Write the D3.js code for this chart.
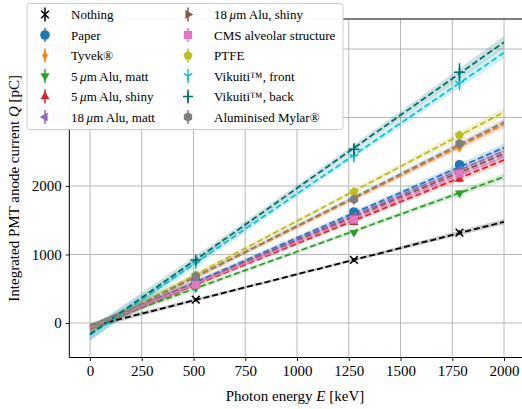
<!DOCTYPE html>
<html>
<head>
<meta charset="utf-8">
<script src="https://cdn.jsdelivr.net/npm/d3@7/dist/d3.min.js"></script>
<style>
  body { margin: 0; background: #fff; }
  text { font-family: "Liberation Serif", "DejaVu Serif", serif; fill: #000; }
</style>
</head>
<body>
<svg width="522" height="409"></svg>
<script>
// ---- data ----
const names = ['Nothing', 'Paper', 'Tyvek®', '5 μm Alu, matt', '5 μm Alu, shiny', '18 μm Alu, matt',
               '18 μm Alu, shiny', 'CMS alveolar structure', 'PTFE', 'Vikuiti™, front', 'Vikuiti™, back', 'Aluminised Mylar®'];
const colors = ['#000000', '#1f77b4', '#ff7f0e', '#2ca02c', '#d62728', '#9467bd',
                '#8c564b', '#e377c2', '#bcbd22', '#17becf', '#006e6e', '#7f7f7f'];
const markers = ['x', 'o', 'd', 'v', '^', '<', '>', 's', 'p', '1', '+', 'h'];
const energies = [511, 1275, 1785];
// measured charge at each energy [pC]
const charges = [
  [340, 920, 1320],
  [600, 1620, 2310],
  [660, 1790, 2560],
  [510, 1320, 1895],
  [550, 1470, 2100],
  [585, 1560, 2230],
  [575, 1540, 2200],
  [560, 1510, 2180],
  [700, 1915, 2745],
  [860, 2425, 3495],
  [920, 2535, 3660],
  [680, 1805, 2620]
];
const errors = [
  [25, 30, 35], [30, 35, 45], [30, 35, 45], [30, 35, 40], [30, 35, 45], [30, 35, 45],
  [30, 35, 45], [30, 35, 45], [30, 40, 50], [60, 80, 100], [60, 90, 130], [30, 40, 50]
];
// linear fit: charge at E = 0 and at E = 2000 keV
const fitStart = [-55, -75, -95, -50, -64, -72, -70, -67, -105, -175, -164, -96];
const fitEnd   = [1477, 2561, 2900, 2133, 2380, 2510, 2470, 2430, 3080, 3946, 4100, 2930];
// half width of the fit band at E = 0, 1000, 2000 keV
const bandE = [0, 1000, 2000];
const bandHalf = [
  [40, 20, 40], [55, 30, 60], [55, 30, 60], [45, 25, 50], [50, 28, 55], [50, 28, 55],
  [50, 28, 55], [50, 28, 55], [55, 30, 65], [90, 45, 85], [90, 45, 90], [55, 30, 60]
];
const xTicks = [0, 250, 500, 750, 1000, 1250, 1500, 1750, 2000];
const yTicks = [0, 1000, 2000, 3000, 4000];

// ---- layout ----
const svg = d3.select('svg');
const box = {left: 69.3, right: 524.7, top: 19, bottom: 357.5};
const x = d3.scaleLinear().domain([-100, 2100]).range([box.left, box.right]);
const y = d3.scaleLinear().domain([-504, 4438]).range([box.bottom, box.top]);
const serif = '"Liberation Serif", "DejaVu Serif", serif';

svg.append('defs').append('clipPath').attr('id', 'clip')
  .append('rect').attr('x', box.left).attr('y', box.top)
  .attr('width', box.right - box.left).attr('height', box.bottom - box.top);

// grid
const grid = svg.append('g');
grid.selectAll('.vx').data(xTicks).enter().append('line')
  .attr('x1', d => x(d)).attr('x2', d => x(d)).attr('y1', box.top).attr('y2', box.bottom)
  .attr('stroke', '#b0b0b0').attr('stroke-width', 0.9);
grid.selectAll('.hy').data(yTicks).enter().append('line')
  .attr('y1', d => y(d)).attr('y2', d => y(d)).attr('x1', box.left).attr('x2', box.right)
  .attr('stroke', '#b0b0b0').attr('stroke-width', 0.9);

// bands and fit lines
const plot = svg.append('g').attr('clip-path', 'url(#clip)');
const fitAt = (i, e) => fitStart[i] + (fitEnd[i] - fitStart[i]) * e / 2000;

names.forEach((n, i) => {
  const pts = bandE.map((e, k) => ({e: e, lo: fitAt(i, e) - bandHalf[i][k], hi: fitAt(i, e) + bandHalf[i][k]}));
  const area = d3.area().x(d => x(d.e)).y0(d => y(d.lo)).y1(d => y(d.hi)).curve(d3.curveNatural);
  plot.append('path').attr('d', area(pts)).attr('fill', colors[i]).attr('fill-opacity', 0.2);
});
names.forEach((n, i) => {
  plot.append('line')
    .attr('x1', x(0)).attr('y1', y(fitStart[i]))
    .attr('x2', x(2000)).attr('y2', y(fitEnd[i]))
    .attr('stroke', colors[i]).attr('stroke-width', 1.8)
    .attr('stroke-dasharray', '6,3');
});

// marker shapes
function markerPath(m, r) {
  const poly = (n, rot, rr) => d3.range(n).map(k => {
    const a = rot + k * 2 * Math.PI / n;
    return [rr * Math.sin(a), -rr * Math.cos(a)];
  });
  const toPath = p => 'M' + p.map(q => q.join(',')).join('L') + 'Z';
  switch (m) {
    case 'o': return d3.symbol(d3.symbolCircle, Math.PI * r * r)();
    case 's': return `M${-r * 0.85},${-r * 0.85}H${r * 0.85}V${r * 0.85}H${-r * 0.85}Z`;
    case 'd': return `M0,${-r}L${r * 0.6},0L0,${r}L${-r * 0.6},0Z`;
    case 'v': return toPath(poly(3, Math.PI, r * 1.1));
    case '^': return toPath(poly(3, 0, r * 1.1));
    case '<': return toPath(poly(3, -Math.PI / 2, r * 1.1));
    case '>': return toPath(poly(3, Math.PI / 2, r * 1.1));
    case 'p': return toPath(poly(5, 0, r));
    case 'h': return toPath(poly(6, 0, r));
    case 'x': return `M${-r * 0.8},${-r * 0.8}L${r * 0.8},${r * 0.8}M${r * 0.8},${-r * 0.8}L${-r * 0.8},${r * 0.8}`;
    case '+': return `M${-r},0H${r}M0,${-r}V${r}`;
    case '1': return `M0,0V${r}M0,0L${-r * 0.87},${-r * 0.5}M0,0L${r * 0.87},${-r * 0.5}`;
  }
}
const stroked = m => m === 'x' || m === '+' || m === '1';

function drawMarker(g, i, cx, cy, r) {
  const m = markers[i];
  const p = g.append('path').attr('d', markerPath(m, r)).attr('transform', `translate(${cx},${cy})`);
  if (stroked(m)) p.attr('fill', 'none').attr('stroke', colors[i]).attr('stroke-width', 1.5);
  else p.attr('fill', colors[i]);
}

// data points with error bars
const pointsG = svg.append('g');
names.forEach((n, i) => {
  energies.forEach((e, k) => {
    pointsG.append('line')
      .attr('x1', x(e)).attr('x2', x(e))
      .attr('y1', y(charges[i][k] - errors[i][k])).attr('y2', y(charges[i][k] + errors[i][k]))
      .attr('stroke', colors[i]).attr('stroke-width', 1.5);
    drawMarker(pointsG, i, x(e), y(charges[i][k]), markers[i] === '+' ? 5.5 : 4.8);
  });
});

// axes
const xAxis = svg.append('g').attr('transform', `translate(0,${box.bottom})`)
  .call(d3.axisBottom(x).tickValues(xTicks).tickFormat(d3.format('d')).tickSize(3.5).tickPadding(4).tickSizeOuter(0));
const yAxis = svg.append('g').attr('transform', `translate(${box.left},0)`)
  .call(d3.axisLeft(y).tickValues(yTicks).tickFormat(d3.format('d')).tickSize(3.5).tickPadding(4).tickSizeOuter(0));
[xAxis, yAxis].forEach(a => {
  a.attr('font-family', serif).attr('font-size', 15);
  a.select('.domain').remove();
  a.selectAll('text').attr('fill', '#000');
  a.selectAll('line').attr('stroke', '#000').attr('stroke-width', 0.9);
});
// spines
svg.append('line').attr('x1', box.left).attr('x2', box.left).attr('y1', box.top).attr('y2', box.bottom).attr('stroke', '#000');
svg.append('line').attr('x1', box.left).attr('x2', box.right).attr('y1', box.bottom).attr('y2', box.bottom).attr('stroke', '#000');
svg.append('line').attr('x1', box.left).attr('x2', box.right).attr('y1', box.top).attr('y2', box.top).attr('stroke', '#000');

// axis titles
const xt = svg.append('text').attr('x', (box.left + box.right) / 2 - 2).attr('y', 401)
  .attr('text-anchor', 'middle').style('font-size', '15px');
xt.append('tspan').text('Photon energy ');
xt.append('tspan').style('font-style', 'italic').text('E');
xt.append('tspan').text(' [keV]');

const yt = svg.append('text').attr('transform', `translate(19,${(box.top + box.bottom) / 2}) rotate(-90)`)
  .attr('text-anchor', 'middle').style('font-size', '15px');
yt.append('tspan').text('Integrated PMT anode current ');
yt.append('tspan').style('font-style', 'italic').text('Q');
yt.append('tspan').text(' [pC]');

// legend
const lg = svg.append('g');
lg.append('rect').attr('x', 27).attr('y', 3.5).attr('width', 316).attr('height', 126).attr('rx', 3)
  .attr('fill', '#fff').attr('fill-opacity', 0.97).attr('stroke', '#cccccc').attr('stroke-width', 1);
names.forEach((n, i) => {
  const col = Math.floor(i / 6), row = i % 6;
  const mx = col === 0 ? 45 : 188;
  const ty = 14.5 + row * 20.5;
  lg.append('line').attr('x1', mx).attr('x2', mx).attr('y1', ty - 7).attr('y2', ty + 7)
    .attr('stroke', colors[i]).attr('stroke-width', 1.5);
  drawMarker(lg, i, mx, ty, markers[i] === '+' ? 5 : 4.8);
  const parts = n.split('μm');
  const t = lg.append('text').attr('x', mx + 26).attr('y', ty + 4.5).style('font-size', '13px');
  if (parts.length > 1) {
    t.append('tspan').text(parts[0].trim() + '\u2009');
    t.append('tspan').style('font-style', 'italic').text('μ');
    t.append('tspan').text('m' + parts[1]);
  } else {
    t.text(n);
  }
});
</script>
</body>
</html>
